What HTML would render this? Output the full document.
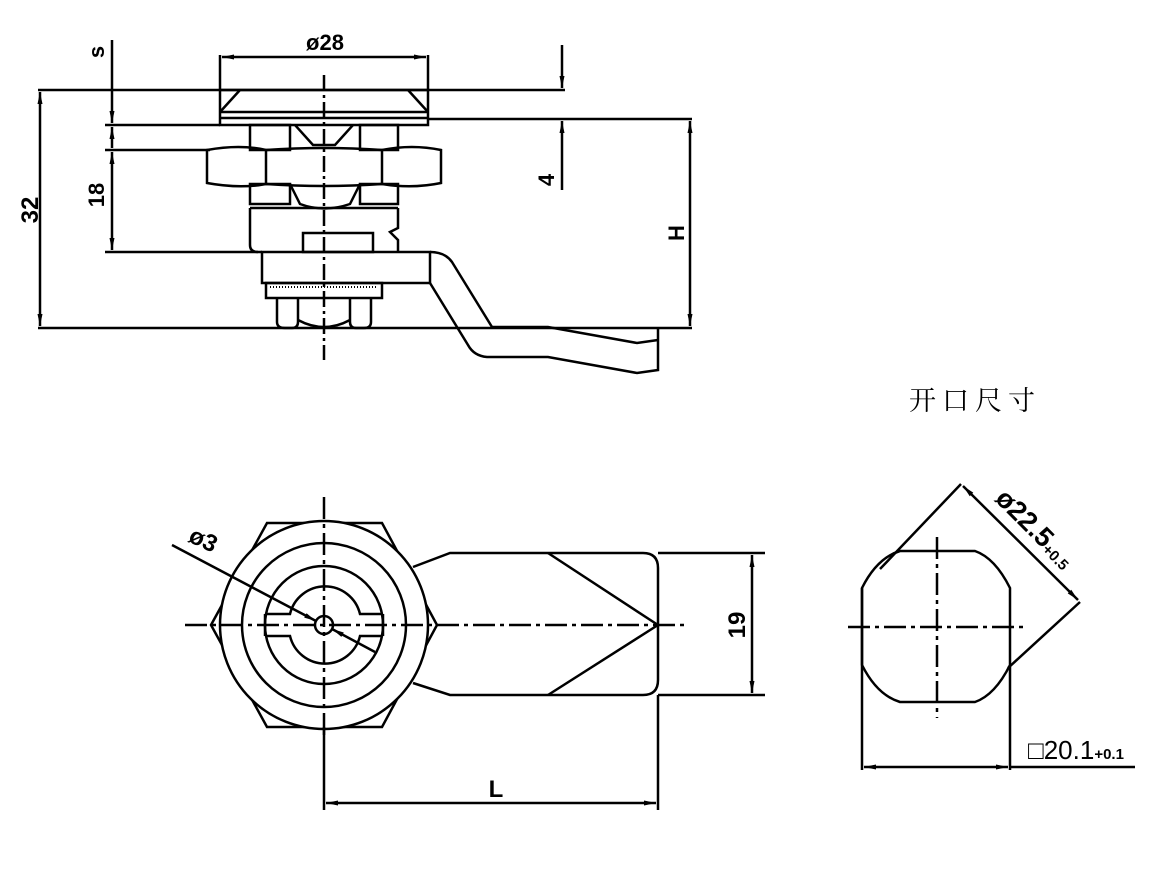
<!DOCTYPE html>
<html><head><meta charset="utf-8"><style>
html,body{margin:0;padding:0;background:#fff;}
svg{display:block;}
text{font-family:"Liberation Sans",sans-serif;fill:#000;}
</style></head><body>
<svg width="1159" height="869" viewBox="0 0 1159 869" xmlns="http://www.w3.org/2000/svg">
<defs>
<marker id="a" viewBox="0 0 12 6" refX="12" refY="3" markerWidth="13" markerHeight="6" orient="auto-start-reverse" markerUnits="userSpaceOnUse"><path d="M0,0.5 L12,3 L0,5.5 Z" fill="#000"/></marker>
</defs>
<g stroke="#000" stroke-width="2.5" fill="none">
<line x1="38" y1="90" x2="565" y2="90"/>
<line x1="428" y1="119" x2="692" y2="119"/>
<line x1="105" y1="125" x2="220" y2="125"/>
<line x1="105" y1="150" x2="210" y2="150"/>
<line x1="105" y1="252" x2="262" y2="252"/>
<line x1="38" y1="328" x2="692" y2="328"/>
<line x1="220" y1="55" x2="220" y2="90"/>
<line x1="428" y1="55" x2="428" y2="90"/>
<path d="M220,90 H428 V125 H220 Z"/>
<line x1="220" y1="112" x2="240" y2="90"/>
<line x1="428" y1="112" x2="408" y2="90"/>
<line x1="220" y1="112" x2="428" y2="112"/>
<line x1="220" y1="118" x2="428" y2="118"/>
<rect x="250" y="125" width="40" height="25"/>
<rect x="360" y="125" width="38" height="25"/>
<path d="M295,125 L313,145 H335 L353,125"/>
<path d="M207,150 Q240,144 266,150 Q324,146 382,150 Q412,144 441,150 V183 Q412,189 382,184 Q324,188 266,184 Q240,189 207,183 Z"/>
<line x1="266" y1="150" x2="266" y2="184"/>
<line x1="382" y1="150" x2="382" y2="184"/>
<rect x="250" y="184" width="40" height="20"/>
<rect x="360" y="184" width="38" height="20"/>
<path d="M290,184 L300,204 Q324,213 350,204 L360,184"/>
<line x1="250" y1="208" x2="398" y2="208"/>
<path d="M250,208 V245 Q250,252 258,252"/>
<path d="M398,208 V228 L390,232 L398,240 V252"/>
<rect x="303" y="233" width="70" height="19"/>
<rect x="262" y="252" width="168" height="31"/>
<path d="M430,252 Q445,252 452,262 L492,327 H548 L637,343 L658,340"/>
<path d="M430,283 L468,345 Q474,356 487,357 H548 L637,373 L658,370 V328"/>
<rect x="266" y="283" width="116" height="15"/>
<line x1="270" y1="287" x2="378" y2="287" stroke-dasharray="1 2" stroke-width="2"/>
<path d="M277,298 V322 Q277,328 285,328 H292 Q298,328 298,322 V298"/>
<path d="M350,298 V322 Q350,328 356,328 H364 Q371,328 371,322 V298"/>
<path d="M298,320 Q324,334 350,320"/>
<line x1="324" y1="75" x2="324" y2="360" stroke-dasharray="16 4 3 4"/>
<line x1="222" y1="57" x2="426" y2="57" marker-start="url(#a)" marker-end="url(#a)"/>
<line x1="40" y1="92" x2="40" y2="326" marker-start="url(#a)" marker-end="url(#a)"/>
<line x1="112" y1="40" x2="112" y2="123" marker-end="url(#a)"/>
<line x1="112" y1="127" x2="112" y2="148" marker-start="url(#a)"/>
<line x1="112" y1="152" x2="112" y2="250" marker-start="url(#a)" marker-end="url(#a)"/>
<line x1="562" y1="45" x2="562" y2="88" marker-end="url(#a)"/>
<line x1="562" y1="121" x2="562" y2="190" marker-start="url(#a)"/>
<line x1="690" y1="121" x2="690" y2="326" marker-start="url(#a)" marker-end="url(#a)"/>
</g>
<g font-weight="bold">
<text x="325" y="50" font-size="22" text-anchor="middle">ø28</text>
<text transform="translate(38,210) rotate(-90)" font-size="24" text-anchor="middle">32</text>
<text transform="translate(104,195) rotate(-90)" font-size="22" text-anchor="middle">18</text>
<text transform="translate(104,52) rotate(-90)" font-size="22" text-anchor="middle">s</text>
<text transform="translate(554,180) rotate(-90)" font-size="22" text-anchor="middle">4</text>
<text transform="translate(684,233) rotate(-90)" font-size="22" text-anchor="middle">H</text>
</g>

<g stroke="#000" stroke-width="2.5" fill="none">
<polygon points="211,625 267,523 382,523 437,625 382,727 267,727"/>
<circle cx="324" cy="625" r="104" fill="#fff"/>
<circle cx="324" cy="625" r="82"/>
<circle cx="324" cy="625" r="59"/>
<path d="M265,614 H290 A36,36 0 0 1 360,614 H383"/>
<path d="M265,636 H290 A36,36 0 0 0 360,636 H383"/>
<line x1="265" y1="614" x2="265" y2="636"/>
<line x1="383" y1="614" x2="383" y2="636"/>
<circle cx="324" cy="625" r="9" fill="#fff"/>
<path d="M413,567 L450,553 H643 Q658,553 658,568 V680 Q658,695 643,695 H450 L413,683"/>
<line x1="548" y1="553" x2="658" y2="625"/>
<line x1="548" y1="695" x2="658" y2="625"/>
<line x1="658" y1="553" x2="765" y2="553"/>
<line x1="658" y1="695" x2="765" y2="695"/>
<line x1="658" y1="695" x2="658" y2="810"/>
<line x1="324" y1="727" x2="324" y2="810"/>
<line x1="752" y1="555" x2="752" y2="693" marker-start="url(#a)" marker-end="url(#a)"/>
<line x1="326" y1="803" x2="656" y2="803" marker-start="url(#a)" marker-end="url(#a)"/>
<line x1="172" y1="545" x2="316" y2="621" marker-end="url(#a)"/>
<line x1="375" y1="652" x2="332" y2="629" marker-end="url(#a)"/>
<line x1="185" y1="625" x2="685" y2="625" stroke-dasharray="22 5 4 5"/>
<line x1="324" y1="497" x2="324" y2="735" stroke-dasharray="22 5 4 5"/>
</g>
<g font-weight="bold">
<text transform="translate(200,547) rotate(25)" font-size="24" text-anchor="middle">ø3</text>
<text transform="translate(745,625) rotate(-90)" font-size="24" text-anchor="middle">19</text>
<text x="496" y="797" font-size="24" text-anchor="middle">L</text>
</g>

<text x="909" y="410" font-size="27" letter-spacing="6" style="font-family:'Noto Serif CJK SC','Noto Sans CJK SC',serif">开口尺寸</text>
<g stroke="#000" stroke-width="2.5" fill="none">
<path d="M900,551 H975 Q995,558 1010,588 V665 Q995,695 975,702 H900 Q877,695 862,665 V588 Q877,558 900,551 Z"/>
<line x1="862" y1="588" x2="862" y2="770"/>
<line x1="1010" y1="665" x2="1010" y2="770"/>
<line x1="864" y1="767" x2="1008" y2="767" marker-start="url(#a)" marker-end="url(#a)"/>
<line x1="1010" y1="767" x2="1135" y2="767"/>
<line x1="880" y1="569" x2="961" y2="484" />
<line x1="1008" y1="668" x2="1080" y2="602"/>
<line x1="963" y1="486" x2="1078" y2="600" marker-start="url(#a)" marker-end="url(#a)"/>
<line x1="848" y1="627" x2="1026" y2="627" stroke-dasharray="22 5 4 5"/>
<line x1="937" y1="537" x2="937" y2="718" stroke-dasharray="22 5 4 5"/>
</g>
<text transform="translate(994,500) rotate(45)" font-size="27" font-weight="bold">ø22.5<tspan font-size="15" dy="2">+0.5</tspan></text>
<text x="1028" y="759" font-size="26">□20.1<tspan font-size="15" font-weight="bold">+0.1</tspan></text>
</svg>
</body></html>
